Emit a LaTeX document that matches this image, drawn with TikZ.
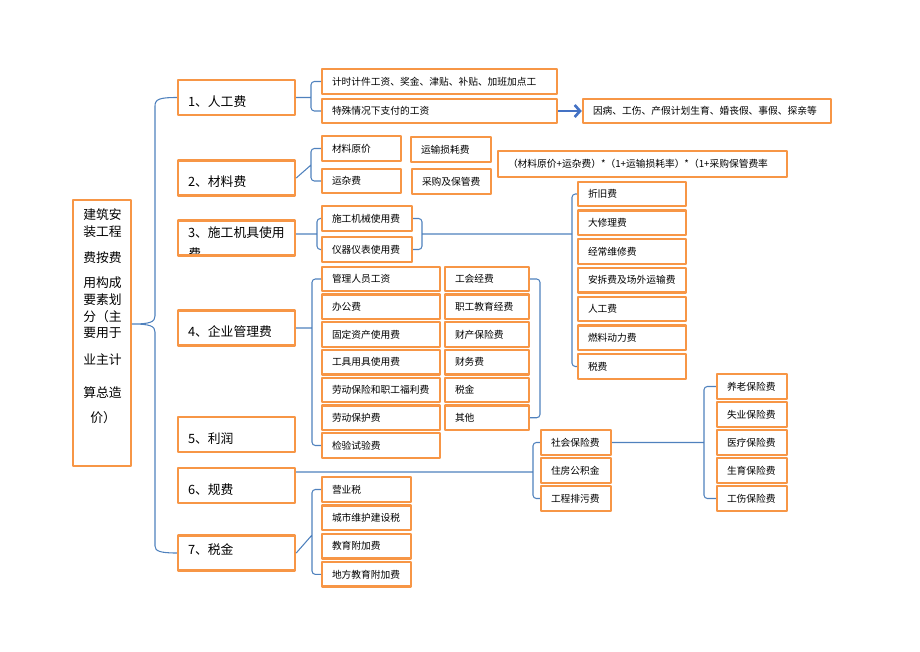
\documentclass[tikz,border=0pt]{standalone}
\usepackage{fontspec}
\setmainfont{Noto Sans CJK SC}
\usetikzlibrary{arrows.meta}
\definecolor{boxorange}{HTML}{F79646}
\definecolor{linkblue}{HTML}{4F81BD}
\definecolor{arrowblue}{HTML}{4472C4}
\begin{document}
\begin{tikzpicture}[x=0.75pt, y=-0.75pt, line join=round,
  box/.style={draw=boxorange, line width=1.8pt, inner xsep=7.5pt, inner ysep=0pt, align=left},
  big/.style={box, font=\fontsize{9.6}{12}\selectfont, text width=72.75pt, minimum height=26.5pt, text height=13.3pt, text depth=0pt},
  small/.style={box, font=\fontsize{7.3}{9}\selectfont, text width=#1, minimum height=18.4pt, text height=6.3pt, text depth=0.7pt},
  conn/.style={draw=linkblue, line width=0.8pt, rounded corners=2.5pt},
  roottext/.style={anchor=base west, inner sep=0pt, font=\fontsize{9.6}{12}\selectfont}]
\useasboundingbox (0,0) rectangle (920,651);
\node[box, minimum width=43.5pt, minimum height=199.5pt] (root) at (102,333) {};
\foreach \x/\y/\t [count=\i] in {83/219/建筑安, 83/236/装工程, 83/262/费按费, 83/287/用构成, 83/304/要素划, 83/321.5/分（主, 83/337/要用于, 83/364/业主计, 83/397/算总造, 90/422/价）}
  \node[roottext] (r\i) at (\x,\y) {\t};
\begin{scope}
\clip (178,220) rectangle (295,256);
\node[roottext] (n3b) at (188,258) {费};
\end{scope}
\node[big] (n1) at (236.5,97.5) {1、人工费};
\node[big] (n2) at (236.5,178) {2、材料费};
\node[big, text height=5pt, text depth=6.3pt] (n3) at (236.5,238) {3、施工机具使用};
\node[big] (n4) at (236.5,328) {4、企业管理费};
\node[big] (n5) at (236.5,434.5) {5、利润};
\node[big] (n6) at (236.5,485.5) {6、规费};
\node[big, text height=5.8pt, text depth=3pt] (n7) at (236.5,553) {7、税金};
\node[small=161.25pt] (p1) at (439.5,81.5) {计时计件工资、奖金、津贴、补贴、加班加点工};
\node[small=161.25pt] (p2) at (439.5,111) {特殊情况下支付的工资};
\node[small=171pt] (p3) at (707,111) {因病、工伤、产假计划生育、婚丧假、事假、探亲等};
\node[small=44.25pt] (m1) at (361.5,148.5) {材料原价};
\node[small=45pt] (m2) at (451,149.5) {运输损耗费};
\node[small=44.25pt] (m3) at (361.5,181) {运杂费};
\node[small=44.25pt] (m4) at (451.5,181.5) {采购及保管费};
\node[small=201.75pt, minimum height=19.5pt] (m5) at (642.5,164) {（材料原价+运杂费）*（1+运输损耗率）*（1+采购保管费率};
\node[small=52.5pt] (q1) at (367,218.5) {施工机械使用费};
\node[small=52.5pt] (q2) at (367,249.5) {仪器仪表使用费};
\foreach \t [count=\i] in {折旧费, 大修理费, 经常维修费, 安拆费及场外运输费, 人工费, 燃料动力费, 税费}
  \node[small=66pt] (k\i) at (632,{165.25+28.75*\i}) {\t};
\foreach \t [count=\i] in {管理人员工资, 办公费, 固定资产使用费, 工具用具使用费, 劳动保险和职工福利费, 劳动保护费, 检验试验费}
  \node[small=73.5pt] (s\i) at (381,{251.25+27.75*\i}) {\t};
\foreach \t [count=\i] in {工会经费, 职工教育经费, 财产保险费, 财务费, 税金, 其他}
  \node[small=48pt] (t\i) at (487,{251.25+27.75*\i}) {\t};
\foreach \t [count=\i] in {社会保险费, 住房公积金, 工程排污费}
  \node[small=37.5pt] (u\i) at (576,{414.5+28*\i}) {\t};
\foreach \t [count=\i] in {养老保险费, 失业保险费, 医疗保险费, 生育保险费, 工伤保险费}
  \node[small=37.5pt] (v\i) at (752,{358.5+28*\i}) {\t};
\foreach \t [count=\i] in {营业税, 城市维护建设税, 教育附加费, 地方教育附加费}
  \node[small=51.75pt] (w\i) at (366.5,{461.2+28.3*\i}) {\t};
\coordinate (bm) at (155,324);
\coordinate (b1) at (311,97.5);
\coordinate (b2) at (311,165);
\coordinate (b3) at (317,234);
\coordinate (c3) at (422,234);
\coordinate (d3) at (572,234);
\coordinate (b4) at (312,328);
\coordinate (c4) at (540,350);
\coordinate (b6) at (533,472);
\coordinate (c6) at (704,442.5);
\coordinate (b7) at (312,535);
\draw[conn, sharp corners] (n1.west) .. controls (160,97.5) and (155,99) .. (155,106) -- (155,316)
  .. controls (155,322) and (150,324) .. (root.east |- bm)
  .. controls (150,324) and (155,326) .. (155,332) -- (155,546)
  .. controls (155,551) and (160,553) .. (n7.west);
\draw[conn] (p1.west) -| (b1) |- (p2.west) (n1.east) -- (b1);
\draw[conn] (m1.west) -| (b2) |- (m3.west) (n2.east) -- (b2);
\draw[conn] (q1.west) -| (b3) |- (q2.west) (n3.east |- b3) -- (b3);
\draw[conn] (q1.east) -| (c3) |- (q2.east) (c3) -- (d3);
\draw[conn] (k1.west) -| (d3) |- (k7.west);
\draw[conn] (s1.west) -| (b4) |- (s7.west) (n4.east) -- (b4);
\draw[conn] (t1.east) -| (c4) |- (t6.east);
\draw[conn] (u1.west) -| (b6) |- (u3.west) (n6.east |- b6) -- (b6);
\draw[conn] (v1.west) -| (c6) |- (v5.west) (u1.east) -- (c6);
\draw[conn] (w1.west) -| (b7) |- (w4.west) (n7.east) -- (b7);
\draw[arrowblue, line width=2pt, -{Straight Barb[length=4pt,width=9pt]}] (p2.east) -- (p3.west);
\end{tikzpicture}
\end{document}
